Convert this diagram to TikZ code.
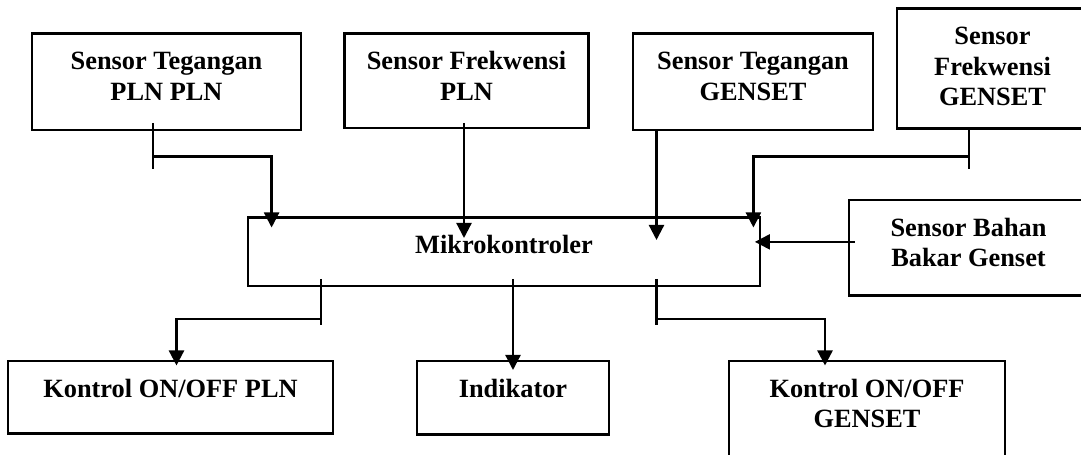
\documentclass[tikz,border=0pt]{standalone}
\usepackage{fontspec}
\setmainfont{Liberation Serif}
\usetikzlibrary{positioning, arrows.meta, calc}
\tikzset{
  blok/.style={draw, line width=1.3pt, anchor=north, align=center,
    inner xsep=0pt, inner ysep=0pt, text height=.72cm,
    font=\fontsize{15pt}{17.4pt}\selectfont\bfseries},
  blok2/.style={blok, text height=1.33cm},
  blok3/.style={blok, text height=1.94cm},
  wire/.style={line width=1.3pt},
  arah/.style={wire, -{Triangle[width=.3cm,length=.3cm]}}
}

\begin{document}
\begin{tikzpicture}
        \path[use as bounding box, fill=white] (0,0) rectangle (21.62,9.1);
        \clip (0,0) rectangle (21.62,9.1);
        %-----------------------------------------------
        % Sensor
        \node[blok2, minimum width=5.37cm, text depth=.6cm] (b1) at (3.33,8.45) {Sensor Tegangan\\PLN PLN};
        \node[blok2, minimum width=4.88cm, text depth=.56cm] (b2) at (9.33,8.45) {Sensor Frekwensi\\PLN};
        \node[blok2, minimum width=4.81cm, text depth=.6cm] (b3) at (15.06,8.45) {Sensor Tegangan\\GENSET};
        \node[blok3, minimum width=3.83cm, text depth=.46cm] (b4) at (19.85,8.95) {Sensor\\Frekwensi\\GENSET};
        \node[blok2, minimum width=4.79cm, text depth=.58cm] (b5) at (19.37,5.12) {Sensor Bahan\\Bakar Genset};
        %-----------------------------------------------
        \node[blok, minimum width=10.23cm, text depth=.65cm] (mk) at (10.08,4.77) {Mikrokontroler};
        %-----------------------------------------------
        % Keluaran
        \node[blok, minimum width=6.49cm, text depth=.73cm] (k1) at (3.41,1.9) {Kontrol ON/OFF PLN};
        \node[blok, minimum width=3.85cm, text depth=.75cm] (ind) at (10.26,1.9) {Indikator};
        \node[blok2, minimum width=5.52cm, text depth=.87cm] (k2) at (17.34,1.9) {Kontrol ON/OFF\\GENSET};

        % Titik cabang dan masukan
        \coordinate (j1) at (3.06,5.97);
        \coordinate (j4) at (19.38,5.97);
        \coordinate (j5) at (6.42,2.72);
        \coordinate (j6) at (13.13,2.72);
        \coordinate (in1) at ([xshift=.49cm,yshift=-.22cm]mk.north west);
        \coordinate (in2) at ([xshift=-.8cm,yshift=-.43cm]mk.north);
        \coordinate (in3) at ([xshift=3.05cm,yshift=-.47cm]mk.north);
        \coordinate (in4) at ([xshift=-.15cm,yshift=-.22cm]mk.north east);
        \coordinate (in5) at ([xshift=-.12cm,yshift=.2cm]mk.east);

        % Sensor -> Mikrokontroler
        \draw[wire] ($(b1.south -| j1)+(0,.17)$) -- ([yshift=-.25cm]j1);
        \draw[arah] (j1) -| (in1);
        \draw[arah] ($(b2.south -| in2)+(0,.13)$) -- (in2);
        \draw[arah] (b3.south -| in3) -- (in3);
        \draw[wire] (b4.south -| j4) -- ([yshift=-.25cm]j4);
        \draw[arah] (j4) -| (in4);
        \draw[arah] ($(b5.west |- in5)+(.14,0)$) -- (in5);

        % Mikrokontroler -> Keluaran
        \draw[wire] ($(mk.south -| j5)+(0,.17)$) -- ([yshift=-.12cm]j5);
        \draw[arah] (j5) -| ([xshift=.12cm,yshift=-.11cm]k1.north);
        \draw[arah] ($(mk.south -| ind.north)+(0,.17)$) -- ([yshift=-.2cm]ind.north);
        \draw[wire] ($(mk.south -| j6)+(0,.17)$) -- ([yshift=-.12cm]j6);
        \draw[arah] (j6) -| ([xshift=-.84cm,yshift=-.11cm]k2.north);
\end{tikzpicture}
\end{document}
